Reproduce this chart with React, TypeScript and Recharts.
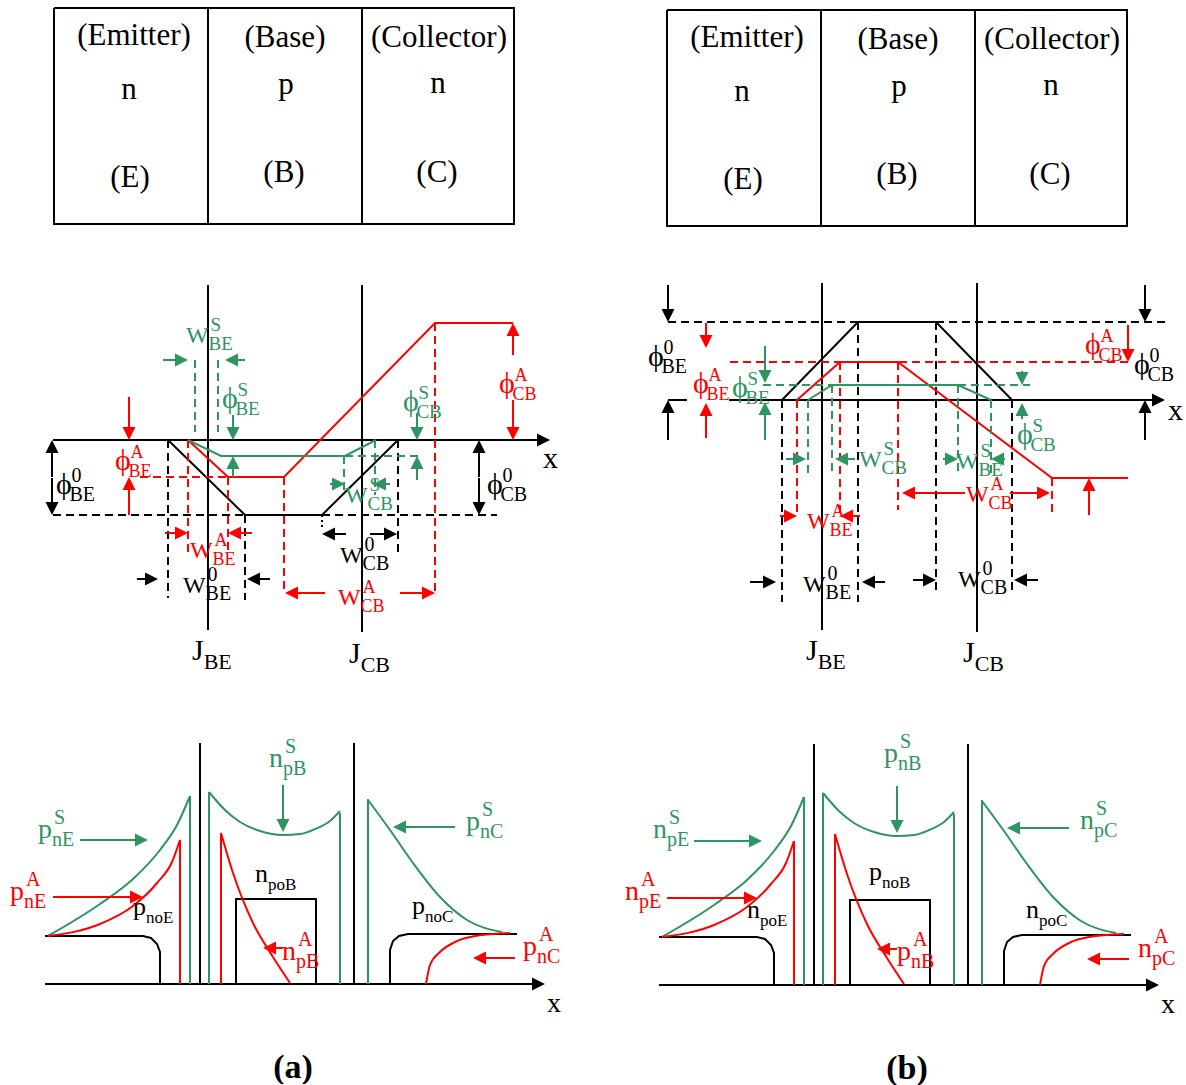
import React from "react";
import { ComposedChart, Line, Scatter, XAxis, YAxis } from "recharts";

type XY = [number, number];
type Arrow = [number, number, string, number];
type Lbl = [number, number, string, string, string];

const FONT = "'Liberation Serif', 'Times New Roman', serif";
const RED = "#ff0000";
const GREEN = "#2e9462";
const BLACK = "#000000";

// ---- top boxes (same drawing for (a) and (b)) ----
const regionOutline: XY[][] = [
  [[54, 8], [514, 8], [514, 224], [54, 224], [54, 8]],
  [[208, 8], [208, 224]],
  [[362, 8], [362, 224]],
];
const regionLabels: [number, number, string][] = [
  [134, 45, "(Emitter)"], [129, 99, "n"], [130, 187, "(E)"],
  [285, 47, "(Base)"], [286, 94, "p"], [284, 182, "(B)"],
  [439, 47, "(Collector)"], [438, 93, "n"], [437, 182, "(C)"],
];

// ---- energy bands, panel (a) ----
const aBlack: XY[][] = [
  [[53, 440], [540, 440]],
  [[208, 285], [208, 630]],
  [[362, 285], [362, 632]],
  [[168, 440], [245, 515], [322, 515], [398, 440]],
];
const aBlackDash: XY[][] = [
  [[53, 515], [245, 515]],
  [[322, 515], [497, 515]],
  [[168, 440], [168, 598]],
  [[245, 515], [245, 600]],
  [[398, 440], [398, 552]],
];
const aBlackDot: XY[][] = [[[322, 515], [322, 530]]];
const aRed: XY[][] = [[[188, 440], [228, 477], [284, 477], [435, 323], [513, 323]]];
const aRedDash: XY[][] = [
  [[140, 477], [228, 477]],
  [[188, 440], [188, 555]],
  [[228, 477], [228, 555]],
  [[284, 477], [284, 593]],
  [[435, 323], [435, 593]],
];
const aGreen: XY[][] = [[[188, 440], [221, 456], [345, 456], [376, 440]]];
const aGreenDash: XY[][] = [
  [[195, 360], [195, 432]],
  [[218, 360], [218, 432]],
  [[345, 456], [420, 456]],
  [[344, 456], [344, 495]],
  [[375, 440], [375, 495]],
];
const aArrowsBlack: Arrow[] = [
  [550, 440, "r", 12], [52, 440, "u", 37], [52, 515, "d", 37], [479, 440, "u", 37], [479, 515, "d", 37],
  [158, 579, "r", 21], [247, 579, "l", 23], [322, 534, "l", 24], [397, 534, "r", 27],
];
const aArrowsRed: Arrow[] = [
  [129, 440, "d", 43], [129, 477, "u", 38], [513, 323, "u", 32], [513, 440, "d", 40],
  [188, 533, "r", 23], [228, 533, "l", 24], [285, 593, "l", 40], [435, 593, "r", 35],
];
const aArrowsGreen: Arrow[] = [
  [188, 360, "r", 25], [225, 360, "l", 20], [233, 440, "d", 25], [233, 456, "u", 21],
  [345, 484, "r", 15], [373, 484, "l", 17], [417, 440, "d", 27], [417, 456, "u", 24],
];
const aLabelsBlack: Lbl[] = [
  [56, 494, "ϕ", "BE", "0"], [183, 593, "W", "BE", "0"], [340, 563, "W", "CB", "0"], [487, 494, "ϕ", "CB", "0"],
];
const aLabelsRed: Lbl[] = [
  [115, 470, "ϕ", "BE", "A"], [190, 558, "W", "BE", "A"], [338, 605, "W", "CB", "A"], [499, 393, "ϕ", "CB", "A"],
];
const aLabelsGreen: Lbl[] = [
  [186, 343, "W", "BE", "S"], [222, 408, "ϕ", "BE", "S"], [345, 503, "W", "CB", "S"], [403, 411, "ϕ", "CB", "S"],
];
const aJunctions: Lbl[] = [[192, 660, "J", "BE", ""], [349, 663, "J", "CB", ""], [543, 468, "x", "", ""]];

// ---- energy bands, panel (b) ----
const bBlack: XY[][] = [
  [[668, 400], [687, 400]],
  [[729, 400], [1155, 400]],
  [[822, 283], [822, 630]],
  [[977, 283], [977, 632]],
  [[782, 400], [858, 322], [936, 322], [1012, 400]],
];
const bBlackDash: XY[][] = [
  [[668, 322], [858, 322]],
  [[936, 322], [1168, 322]],
  [[782, 400], [782, 602]],
  [[858, 322], [858, 602]],
  [[936, 322], [936, 592]],
  [[1012, 400], [1012, 592]],
];
const bRed: XY[][] = [[[797, 400], [840, 362], [898, 362], [1052, 478], [1128, 478]]];
const bRedDash: XY[][] = [
  [[730, 362], [1130, 362]],
  [[797, 400], [797, 515]],
  [[840, 362], [840, 515]],
  [[898, 362], [898, 510]],
  [[1052, 478], [1052, 513]],
];
const bGreen: XY[][] = [[[808, 400], [832, 385], [958, 385], [991, 400]]];
const bGreenDash: XY[][] = [
  [[763, 385], [1030, 385]],
  [[808, 400], [808, 475]],
  [[832, 385], [832, 475]],
  [[958, 385], [958, 475]],
  [[991, 400], [991, 475]],
];
const bArrowsBlack: Arrow[] = [
  [1165, 400, "r", 12], [668, 322, "d", 37], [668, 400, "u", 40], [1145, 322, "d", 37], [1145, 400, "u", 40],
  [776, 582, "r", 26], [862, 582, "l", 23], [936, 580, "r", 23], [1014, 580, "l", 24],
];
const bArrowsRed: Arrow[] = [
  [706, 348, "d", 25], [706, 403, "u", 35], [1128, 362, "d", 37], [1089, 478, "u", 37],
  [797, 516, "r", 17], [840, 516, "l", 20], [902, 493, "l", 63], [1050, 493, "r", 40],
];
const bArrowsGreen: Arrow[] = [
  [765, 383, "d", 37], [765, 402, "u", 38], [1022, 385, "d", 14], [1022, 403, "u", 16],
  [806, 459, "r", 20], [835, 459, "l", 20], [958, 459, "r", 15], [991, 459, "l", 14],
];
const bLabelsBlack: Lbl[] = [
  [648, 366, "ϕ", "BE", "0"], [803, 592, "W", "BE", "0"], [958, 587, "W", "CB", "0"], [1134, 374, "ϕ", "CB", "0"],
];
const bLabelsRed: Lbl[] = [
  [693, 393, "ϕ", "BE", "A"], [807, 529, "W", "BE", "A"], [966, 502, "W", "CB", "A"], [1085, 354, "ϕ", "CB", "A"],
];
const bLabelsGreen: Lbl[] = [
  [732, 397, "ϕ", "BE", "S"], [859, 467, "W", "CB", "S"], [956, 469, "W", "BE", "S"], [1017, 444, "ϕ", "CB", "S"],
];
const bJunctions: Lbl[] = [[806, 660, "J", "BE", ""], [963, 662, "J", "CB", ""], [1168, 420, "x", "", ""]];

// ---- carrier profiles (same curves for (a) and (b)) ----
const carrierBlack: XY[][] = [
  [[45, 984], [535, 984]],
  [[200, 743], [200, 984]],
  [[354, 743], [354, 984]],
  [[45, 936], [143, 936], [151, 938], [157, 944], [160, 952], [160, 984]],
  [[236, 984], [236, 899], [316, 899], [316, 984]],
  [[390, 984], [390, 950], [393, 941], [399, 936], [408, 934], [517, 934]],
];
const carrierGreenWalls: XY[][] = [
  [[190, 796], [190, 984]],
  [[209, 792], [209, 984]],
  [[340, 813], [340, 984]],
  [[368, 799], [368, 984]],
];
const carrierRedWalls: XY[][] = [
  [[180, 840], [180, 984]],
  [[221, 833], [221, 984]],
];
const carrierGreenCurves: XY[][] = [
  [[48, 936], [100, 904], [133, 879], [160, 850], [177, 825], [190, 796]],
  [[209, 792], [225, 810], [240, 822], [260, 831], [283, 835], [300, 834], [315, 829], [330, 821], [340, 811]],
  [[368, 800], [390, 830], [413, 863], [440, 897], [467, 920], [502, 932]],
];
const carrierRedCurves: XY[][] = [
  [[48, 936], [100, 924], [133, 906], [157, 883], [172, 862], [180, 840]],
  [[221, 833], [233, 873], [253, 923], [273, 957], [290, 983]],
  [[426, 984], [430, 965], [440, 952], [455, 942], [475, 936], [510, 933]],
];
const carrierArrowsBlack: Arrow[] = [[545, 984, "r", 12]];
const carrierArrowsGreen: Arrow[] = [[148, 840, "r", 68], [283, 832, "d", 47], [393, 827, "l", 62]];
const carrierArrowsRed: Arrow[] = [[143, 897, "r", 90], [263, 948, "l", 20], [473, 958, "l", 42]];

const aCarrierBlack: Lbl[] = [[133, 915, "p", "noE", ""], [255, 882, "n", "poB", ""], [412, 914, "p", "noC", ""]];
const aCarrierGreen: Lbl[] = [[38, 838, "p", "nE", "S"], [269, 767, "n", "pB", "S"], [466, 830, "p", "nC", "S"]];
const aCarrierRed: Lbl[] = [[10, 900, "p", "nE", "A"], [282, 960, "n", "pB", "A"], [523, 955, "p", "nC", "A"]];
const bCarrierBlack: Lbl[] = [[133, 917, "n", "poE", ""], [255, 879, "p", "noB", ""], [412, 917, "n", "poC", ""]];
const bCarrierGreen: Lbl[] = [[39, 837, "n", "pE", "S"], [270, 761, "p", "nB", "S"], [466, 828, "n", "pC", "S"]];
const bCarrierRed: Lbl[] = [[11, 899, "n", "pE", "A"], [283, 959, "p", "nB", "A"], [524, 956, "n", "pC", "A"]];

const CHAR_W: Record<string, number> = { W: 0.94, "ϕ": 0.56, p: 0.5, n: 0.5, J: 0.39, x: 0.5 };

function toSeries(polys: XY[][]) {
  const out: { x: number; y: number | null }[] = [];
  polys.forEach((poly, i) => {
    if (i > 0) out.push({ x: poly[0][0], y: null });
    poly.forEach(([x, y]) => out.push({ x, y }));
  });
  return out;
}

type Layer = { polys: XY[][]; color: string; dash?: string; curve?: boolean; width?: number };
type ArrowSet = { items: Arrow[]; color: string };
type LabelSet = { items: Lbl[]; color: string; fs: number; sfs: number };

const VEC: Record<string, [number, number]> = { r: [1, 0], l: [-1, 0], u: [0, -1], d: [0, 1] };

function arrowShape(color: string) {
  return (props: any) => {
    const { cx, cy, payload } = props;
    const [vx, vy] = VEC[payload.d];
    const head = 13;
    const hw = 6.5;
    const bx = cx - vx * head;
    const by = cy - vy * head;
    const px = -vy;
    const py = vx;
    const sx = cx - vx * payload.len;
    const sy = cy - vy * payload.len;
    return (
      <g>
        {payload.len > head && <line x1={sx} y1={sy} x2={bx} y2={by} stroke={color} strokeWidth={2} />}
        <polygon points={`${cx},${cy} ${bx + px * hw},${by + py * hw} ${bx - px * hw},${by - py * hw}`} fill={color} />
      </g>
    );
  };
}

function labelShape(color: string, fs: number, sfs: number) {
  return (props: any) => {
    const { cx, cy, payload } = props;
    const isPhi = payload.base === "ϕ";
    const bw = (CHAR_W[payload.base] ?? 0.5) * fs;
    return (
      <g fontFamily={FONT} fill={color}>
        <text x={cx} y={cy} fontSize={isPhi ? fs * 1.25 : fs}>{payload.base}</text>
        {payload.sub && <text x={cx + bw} y={cy + 0.3 * fs} fontSize={sfs}>{payload.sub}</text>}
        {payload.sup && <text x={cx + bw + 2} y={cy - 0.5 * fs} fontSize={sfs}>{payload.sup}</text>}
      </g>
    );
  };
}

function centeredShape(fs: number, weight: string) {
  return (props: any) => (
    <text x={props.cx} y={props.cy} fontSize={fs} fontFamily={FONT} fontWeight={weight} textAnchor="middle" fill={BLACK}>
      {props.payload.text}
    </text>
  );
}

function Sheet(props: {
  w: number; h: number; left: number; top: number;
  layers: Layer[]; arrows?: ArrowSet[]; labels?: LabelSet[];
  plain?: { items: [number, number, string][]; fs: number; weight: string }[];
}) {
  const { w, h, left, top, layers, arrows = [], labels = [], plain = [] } = props;
  return (
    <div style={{ position: "absolute", left, top }}>
      <ComposedChart width={w} height={h} margin={{ top: 0, right: 0, bottom: 0, left: 0 }}>
        <XAxis type="number" dataKey="x" domain={[0, w]} hide allowDataOverflow />
        <YAxis type="number" dataKey="y" domain={[0, h]} hide reversed allowDataOverflow />
        {layers.map((l, i) => (
          <Line
            key={"l" + i}
            data={toSeries(l.polys)}
            dataKey="y"
            type={l.curve ? "monotone" : "linear"}
            stroke={l.color}
            strokeWidth={l.width ?? 2}
            strokeDasharray={l.dash}
            dot={false}
            activeDot={false}
            connectNulls={false}
            isAnimationActive={false}
          />
        ))}
        {arrows.map((a, i) => (
          <Scatter
            key={"a" + i}
            data={a.items.map(([x, y, d, len]) => ({ x, y, d, len }))}
            dataKey="y"
            shape={arrowShape(a.color)}
            isAnimationActive={false}
          />
        ))}
        {labels.map((s, i) => (
          <Scatter
            key={"t" + i}
            data={s.items.map(([x, y, base, sub, sup]) => ({ x, y, base, sub, sup }))}
            dataKey="y"
            shape={labelShape(s.color, s.fs, s.sfs)}
            isAnimationActive={false}
          />
        ))}
        {plain.map((s, i) => (
          <Scatter
            key={"p" + i}
            data={s.items.map(([x, y, text]) => ({ x, y, text }))}
            dataKey="y"
            shape={centeredShape(s.fs, s.weight)}
            isAnimationActive={false}
          />
        ))}
      </ComposedChart>
    </div>
  );
}

const DASH = "8 5";

function Regions({ left, top }: { left: number; top: number }) {
  return (
    <Sheet
      w={540} h={240} left={left} top={top}
      layers={[{ polys: regionOutline, color: BLACK }]}
      plain={[{ items: regionLabels, fs: 31, weight: "normal" }]}
    />
  );
}

function Carriers(props: { left: number; top: number; black: Lbl[]; green: Lbl[]; red: Lbl[]; caption: string }) {
  return (
    <Sheet
      w={572} h={1084} left={props.left} top={props.top}
      layers={[
        { polys: carrierBlack, color: BLACK },
        { polys: carrierGreenWalls, color: GREEN },
        { polys: carrierRedWalls, color: RED },
        { polys: carrierGreenCurves, color: GREEN, curve: true },
        { polys: carrierRedCurves, color: RED, curve: true },
      ]}
      arrows={[
        { items: carrierArrowsBlack, color: BLACK },
        { items: carrierArrowsGreen, color: GREEN },
        { items: carrierArrowsRed, color: RED },
      ]}
      labels={[
        { items: props.black, color: BLACK, fs: 26, sfs: 17 },
        { items: props.green, color: GREEN, fs: 28, sfs: 20 },
        { items: props.red, color: RED, fs: 28, sfs: 20 },
        { items: [[547, 1012, "x", "", ""]], color: BLACK, fs: 28, sfs: 20 },
      ]}
      plain={[{ items: [[293, 1078, props.caption]], fs: 34, weight: "bold" }]}
    />
  );
}

export default function App() {
  return (
    <div style={{ position: "absolute", left: 0, top: 0, width: 1186, height: 1085, background: "#fff", overflow: "hidden" }}>
      <Regions left={0} top={0} />
      <Regions left={613} top={2} />
      <Sheet
        w={1186} h={700} left={0} top={0}
        layers={[
          { polys: [...aBlack, ...bBlack], color: BLACK },
          { polys: [...aBlackDash, ...bBlackDash], color: BLACK, dash: DASH },
          { polys: aBlackDot, color: BLACK, dash: "2 3" },
          { polys: [...aRed, ...bRed], color: RED },
          { polys: [...aRedDash, ...bRedDash], color: RED, dash: DASH },
          { polys: [...aGreen, ...bGreen], color: GREEN },
          { polys: [...aGreenDash, ...bGreenDash], color: GREEN, dash: DASH },
        ]}
        arrows={[
          { items: [...aArrowsBlack, ...bArrowsBlack], color: BLACK },
          { items: [...aArrowsRed, ...bArrowsRed], color: RED },
          { items: [...aArrowsGreen, ...bArrowsGreen], color: GREEN },
        ]}
        labels={[
          { items: [...aLabelsBlack, ...bLabelsBlack], color: BLACK, fs: 24, sfs: 20 },
          { items: [...aLabelsRed, ...bLabelsRed], color: RED, fs: 24, sfs: 18 },
          { items: [...aLabelsGreen, ...bLabelsGreen], color: GREEN, fs: 24, sfs: 19 },
          { items: [...aJunctions, ...bJunctions], color: BLACK, fs: 30, sfs: 22 },
        ]}
      />
      <Carriers left={0} top={0} black={aCarrierBlack} green={aCarrierGreen} red={aCarrierRed} caption="(a)" />
      <Carriers left={614} top={1} black={bCarrierBlack} green={bCarrierGreen} red={bCarrierRed} caption="(b)" />
    </div>
  );
}
